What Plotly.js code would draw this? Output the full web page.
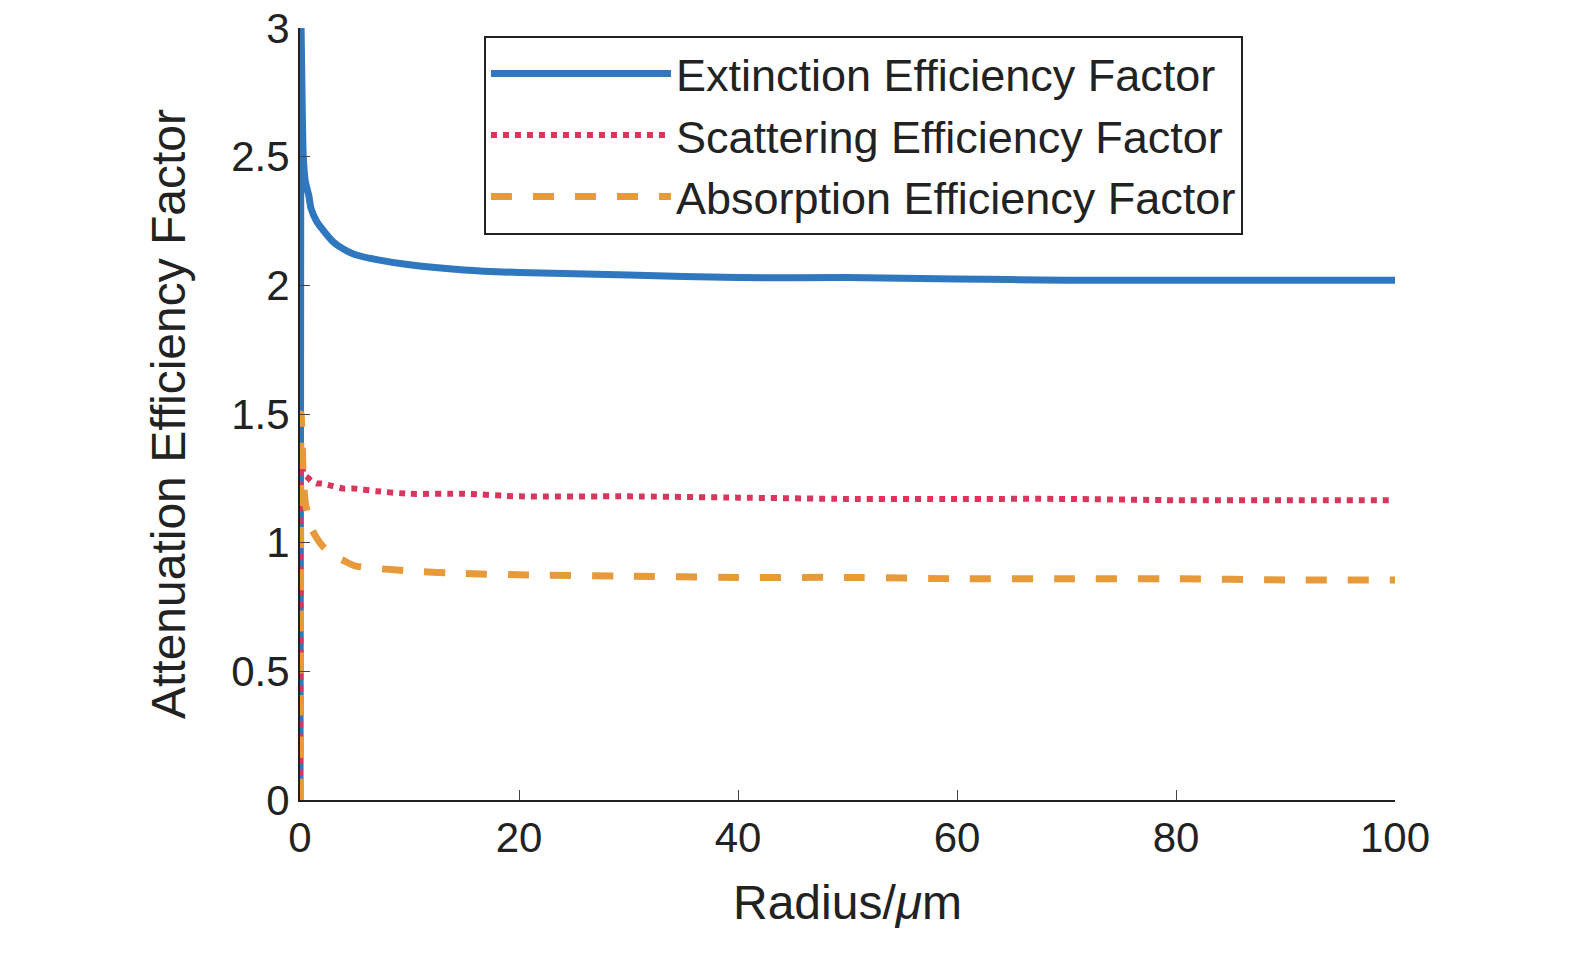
<!DOCTYPE html>
<html><head><script src="https://cdn.plot.ly/plotly-3.0.1.min.js"></script>
<style>body{margin:0;background:#fff}</style></head><body>
<div id="c" style="width:1575px;height:974px"></div>
<script>
const radius=[0,0.05,0.1,0.2,0.3,0.5,0.8,1,1.5,2,3,4,5,7,10,15,20,30,40,50,60,70,80,90,100];
const extinction=[0,1.5,3.0,2.7,2.5,2.4,2.35,2.3,2.25,2.22,2.17,2.14,2.12,2.1,2.08,2.06,2.05,2.04,2.03,2.03,2.025,2.02,2.02,2.02,2.02];
const scattering=[0,0.7,1.3,1.3,1.27,1.26,1.25,1.24,1.23,1.23,1.22,1.21,1.21,1.2,1.19,1.19,1.18,1.18,1.175,1.17,1.17,1.17,1.165,1.165,1.165];
const absorption=[0,0.8,1.5,1.4,1.25,1.15,1.1,1.06,1.02,0.99,0.95,0.93,0.91,0.9,0.89,0.88,0.875,0.87,0.865,0.865,0.86,0.86,0.86,0.855,0.855];
const f="Liberation Sans, Arial, sans-serif";
Plotly.newPlot('c',[
 {x:radius,y:extinction,mode:'lines',name:'Extinction Efficiency Factor',line:{color:'#2f78c0',width:7,shape:'spline',smoothing:0.6}},
 {x:radius,y:scattering,mode:'lines',name:'Scattering Efficiency Factor',line:{color:'#d9365e',width:6,dash:'dot',shape:'spline',smoothing:0.6}},
 {x:radius,y:absorption,mode:'lines',name:'Absorption Efficiency Factor',line:{color:'#e89a3a',width:7,dash:'dash',shape:'spline',smoothing:0.6}}
],{
 width:1575,height:974,paper_bgcolor:'#fff',plot_bgcolor:'#fff',
 margin:{l:300,r:180,t:28,b:174},
 font:{family:f,color:'#222',size:42},
 xaxis:{range:[0,100],tickvals:[0,20,40,60,80,100],ticks:'inside',ticklen:10,showline:true,linecolor:'#222',linewidth:2,showgrid:false,zeroline:false,
  title:{text:'Radius/<i>μ</i>m',font:{size:48},standoff:25}},
 yaxis:{range:[0,3],tickvals:[0,0.5,1,1.5,2,2.5,3],ticktext:['0','0.5','1','1.5','2','2.5','3'],ticks:'inside',ticklen:10,showline:true,linecolor:'#222',linewidth:2,showgrid:false,zeroline:false,
  title:{text:'Attenuation Efficiency Factor',font:{size:48},standoff:30}},
 legend:{x:0.168,y:0.99,xanchor:'left',yanchor:'top',bordercolor:'#222',borderwidth:2,bgcolor:'#fff',font:{size:45},itemwidth:180,tracegroupgap:0},
 showlegend:true
},{displayModeBar:false});
</script></body></html>
